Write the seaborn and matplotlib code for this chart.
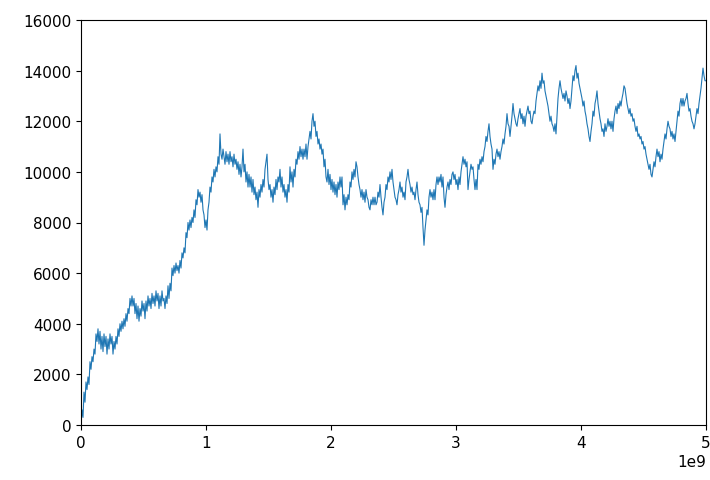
import numpy as np
import pandas as pd
import matplotlib
matplotlib.use("Agg")
import matplotlib.pyplot as plt
import seaborn as sns

# sample spacing (in millions of steps) and traced series values
step_millions = 8
values = [
    0, 600, 300, 1300, 900, 1700, 1400, 1900, 1600, 2500, 2200, 2700, 2500, 3000, 2800, 3600, 3300, 3800, 3200, 3700,
    3000, 3500, 2900, 3600, 3100, 3500, 2800, 3400, 3000, 3600, 3200, 3500, 2800, 3300, 3000, 3500, 3200, 3800, 3500, 4000,
    3700, 4100, 3800, 4200, 3900, 4400, 4100, 4600, 4400, 5000, 4700, 5100, 4700, 5000, 4400, 4800, 4200, 4700, 4100, 4600,
    4300, 4900, 4500, 4800, 4200, 4900, 4500, 5100, 4700, 5000, 4600, 5200, 4800, 5100, 4700, 5300, 4900, 5200, 4600, 5100,
    4700, 5300, 4900, 5000, 4600, 5100, 4800, 5500, 5000, 5600, 5300, 6200, 5900, 6300, 6000, 6400, 6100, 6300, 6000, 6500,
    6200, 6800, 6600, 7000, 6800, 7600, 7400, 8000, 7700, 8100, 7800, 8200, 8000, 8500, 8200, 8900, 8700, 9300, 9000, 9200,
    8800, 9100, 8500, 8300, 7800, 8100, 7700, 8500, 8800, 9400, 9200, 9800, 9600, 10100, 9800, 10200, 10000, 10600, 10300, 11500,
    10700, 10500, 10900, 10600, 10300, 10800, 10400, 10700, 10300, 10800, 10400, 10600, 10200, 10700, 10300, 10500, 10100, 10400, 9900, 10300,
    9800, 10200, 10900, 10000, 10300, 9600, 10000, 9400, 9900, 9400, 9800, 9200, 9700, 9100, 9400, 8900, 9200, 8600, 9300, 9000,
    9500, 9200, 9700, 9400, 10100, 10400, 10700, 9700, 9300, 9500, 9000, 9300, 8800, 9400, 9100, 9700, 9300, 9800, 9600, 10100,
    9400, 9800, 9200, 9500, 9000, 9300, 8800, 9500, 9200, 10200, 9600, 10000, 9400, 10100, 9800, 10500, 10300, 10800, 10500, 11000,
    10600, 10900, 10500, 10900, 10600, 11100, 10500, 11000, 11300, 11600, 11300, 12000, 12300, 11800, 12000, 11400, 11600, 11100, 11300, 10900,
    11100, 10700, 10900, 10200, 10500, 9800, 9600, 10100, 9500, 9900, 9300, 9700, 9200, 9600, 9100, 9500, 9000, 9600, 9300, 9800,
    9400, 9800, 8700, 9100, 8500, 9000, 8700, 9100, 8900, 9600, 9400, 10000, 9700, 10100, 9800, 10400, 10200, 9800, 9500, 9300,
    9000, 9300, 8900, 9200, 8800, 9300, 9000, 8900, 8600, 8500, 8900, 8700, 9000, 8700, 9000, 8700, 8800, 9200, 9000, 9500,
    9000, 8600, 8300, 8800, 9000, 9500, 9300, 9800, 9600, 10000, 9700, 10100, 9600, 9300, 9000, 8900, 8700, 9100, 9300, 9600,
    9200, 9400, 9000, 9200, 8900, 9600, 9800, 10100, 9700, 9500, 9200, 9400, 9100, 9200, 8900, 9300, 9600, 9100, 8800, 8700,
    8400, 8600, 7800, 7100, 7700, 8100, 8500, 8300, 9000, 9300, 9000, 9200, 8900, 9300, 8900, 9500, 9800, 9500, 9800, 9600,
    9900, 9400, 9800, 9000, 8600, 9100, 9400, 9600, 9300, 9700, 9500, 9900, 10000, 9700, 9900, 9500, 9700, 9300, 9800, 9500,
    10000, 10300, 10600, 10300, 10500, 10200, 10400, 9300, 9700, 10000, 10300, 10100, 10200, 9700, 9300, 9700, 9300, 10300, 10100, 10500,
    10300, 10600, 10400, 10800, 11000, 11400, 11200, 11600, 11900, 11400, 11100, 10900, 10100, 10500, 10300, 10700, 10900, 10600, 10800, 10500,
    10800, 11000, 11300, 11100, 11500, 11800, 12300, 11900, 11800, 11400, 11800, 12200, 12700, 12300, 12100, 11900, 11800, 12100, 12300, 12500,
    12100, 12300, 11900, 12200, 11800, 12200, 12400, 12600, 12300, 12400, 12000, 11900, 12200, 12400, 12300, 12800, 13100, 13400, 13200, 13600,
    13300, 13900, 13500, 13600, 13200, 13000, 12800, 12600, 12300, 12000, 12200, 11900, 11800, 11600, 11900, 11500, 12200, 12900, 13300, 13600,
    13300, 13100, 12900, 13100, 12800, 13200, 13000, 12700, 12900, 12500, 12800, 13300, 13800, 13600, 14000, 14200, 13700, 13900, 13500, 13300,
    13100, 12900, 12600, 12800, 12400, 12200, 11900, 11700, 11400, 11200, 11600, 11900, 12400, 12200, 12700, 12900, 13200, 12700, 12400, 12100,
    11900, 11600, 11700, 11400, 11900, 11600, 11800, 12100, 11800, 12000, 11700, 12000, 11600, 12100, 12400, 12600, 12300, 12700, 12500, 12800,
    12600, 12900, 13100, 13400, 13300, 13000, 12700, 12500, 12300, 12500, 12200, 12300, 12000, 12100, 11800, 11600, 11800, 11400, 11500, 11300,
    11400, 11100, 11200, 10900, 11000, 10700, 10500, 10300, 10100, 10300, 9900, 9800, 10100, 10400, 10200, 10600, 10900, 10600, 10800, 10400,
    10700, 10500, 10900, 11200, 11500, 11300, 11700, 12000, 11800, 11700, 11400, 11600, 11300, 11500, 11200, 11600, 12000, 12400, 12200, 12700,
    12900, 12600, 12900, 12600, 12800, 12900, 13100, 12700, 12400, 12500, 12200, 12000, 11900, 11700, 11900, 12200, 12500, 12300, 12700, 13000,
    13300, 13700, 14100, 13800, 13600, 13600,
]

steps = np.arange(len(values)) * step_millions * 1e6
df = pd.DataFrame({"step": steps, "value": values})

fig = plt.figure(figsize=(7.1, 4.81), dpi=100)
ax = fig.add_axes([81 / 710, 55 / 481, 625 / 710, 405 / 481])
sns.lineplot(data=df, x="step", y="value", ax=ax, color="#1f77b4", linewidth=0.8)
ax.set_xlim(0, 5e9)
ax.set_ylim(0, 16000)
ax.set_xlabel("")
ax.set_ylabel("")
ax.tick_params(labelsize=11)
ax.xaxis.get_offset_text().set_fontsize(11)
fig.savefig("out.png", dpi=100)
